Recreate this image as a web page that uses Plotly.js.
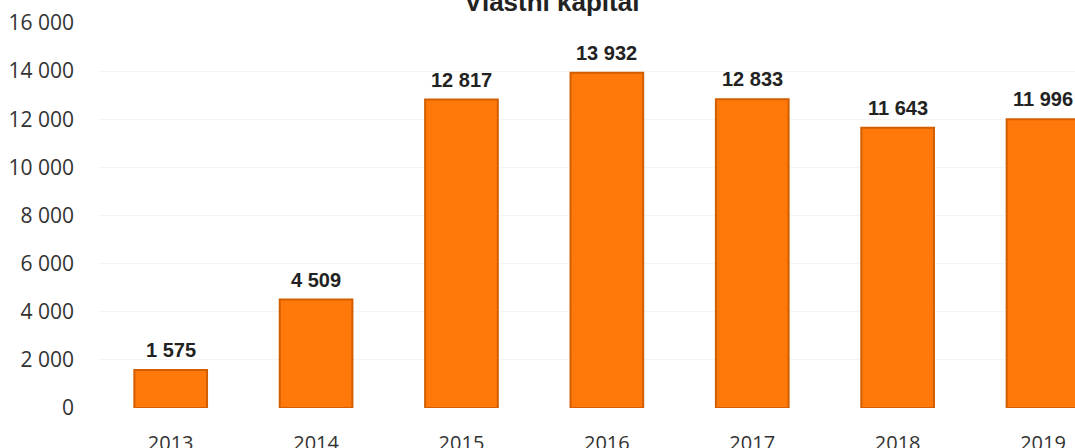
<!DOCTYPE html>
<html>
<head>
<meta charset="utf-8">
<script src="https://cdn.plot.ly/plotly-3.0.1.min.js"></script>
<style>html,body{margin:0;padding:0;background:#fff;}#chart{width:1075px;height:448px;}</style>
</head>
<body>
<div id="chart"></div>
<script>
const chartTitle = "Vlastní kapitál";
const years = ["2013", "2014", "2015", "2016", "2017", "2018", "2019"];
const equity = [1575, 4509, 12817, 13932, 12833, 11643, 11996];
const yTicks = [0, 2000, 4000, 6000, 8000, 10000, 12000, 14000, 16000];

const fmt = v => v.toLocaleString("en-US").replace(/,/g, " ");

const trace = {
  type: "bar",
  x: years,
  y: equity,
  width: 0.5,
  marker: { color: "#FF780A", line: { color: "#D25E00", width: 2 } },
  hoverinfo: "skip"
};

// category axis: annotation x given as the category index
const labelAnnotations = years.map((yr, i) => ({
  x: i, y: equity[i], xref: "x", yref: "y",
  text: "<b>" + fmt(equity[i]) + "</b>",
  showarrow: false, yanchor: "bottom", xanchor: "center",
  yshift: 7,
  font: { family: "Liberation Sans, Arial, sans-serif", size: 20, color: "#222" }
}));

const layout = {
  width: 1075, height: 448,
  margin: { l: 98, r: 0, t: 23, b: 40 },
  paper_bgcolor: "#fff", plot_bgcolor: "#fff",
  separators: ", ",
  showlegend: false,
  title: {
    text: "<b>" + chartTitle + "</b>",
    font: { family: "Liberation Sans, Arial, sans-serif", size: 26, color: "#222" },
    x: 552 / 1075, xanchor: "center",
    xref: "container", yref: "container",
    y: 1 - 2 / 448, yanchor: "middle"
  },
  annotations: labelAnnotations,
  xaxis: {
    type: "category",
    range: [-0.5, 6.22],
    showgrid: false, zeroline: false, showline: false,
    ticks: "",
    ticklabelstandoff: 21,
    tickfont: { family: "Open Sans, sans-serif", size: 20, color: "#333" }
  },
  yaxis: {
    range: [0, 16000],
    tickvals: yTicks,
    tickformat: ",d",
    showgrid: true, gridcolor: "#f4f4f4", gridwidth: 1,
    zeroline: false, showline: false, ticks: "",
    ticklabelstandoff: 23,
    tickfont: { family: "Open Sans, sans-serif", size: 21, color: "#333" }
  },
  bargap: 0.5
};

Plotly.newPlot("chart", [trace], layout, { staticPlot: true, displayModeBar: false });
</script>
</body>
</html>
